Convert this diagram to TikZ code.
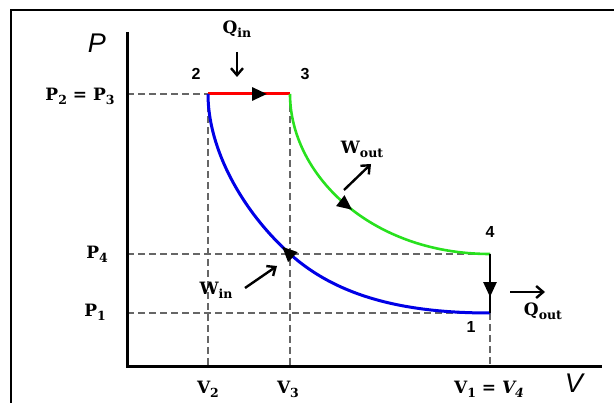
\documentclass[tikz,border=0pt]{standalone}
\usepackage{fontspec}
\newfontfamily\sansf{Liberation Sans}
\newfontfamily\serb{DejaVu Serif}
\newcommand{\lbl}[2]{\mbox{\serb\bfseries\fontsize{17}{19}\selectfont #1\raisebox{-4pt}{\fontsize{12.5}{14}\selectfont #2}}}
\newcommand{\lbli}[2]{\mbox{\serb\bfseries\itshape\fontsize{17}{19}\selectfont #1\raisebox{-4pt}{\fontsize{12.5}{14}\selectfont #2}}}
\newcommand{\lbleq}{\mbox{\serb\bfseries\fontsize{17}{19}\selectfont\ =\ }}
\usetikzlibrary{arrows.meta,decorations.markings}
\begin{document}
\begin{tikzpicture}[x=1pt,y=-1pt,
  axis/.style={line width=3pt},
  frame/.style={line width=2pt},
  guide/.style={draw=black!60, line width=1.2pt, dash pattern=on 7pt off 4pt},
  lab/.style={inner sep=0pt},
  num/.style={font=\sansf\bfseries\fontsize{16}{18}\selectfont, inner sep=0pt},
  axlab/.style={font=\sansf\itshape\fontsize{27}{30}\selectfont, inner sep=0pt},
  smallarrow/.style={line width=2.4pt, -{Straight Barb[length=7pt,width=12pt]}},
  tipat/.style={postaction=decorate, decoration={markings,
      mark=at position #1 with {\arrow{Triangle[length=15pt,width=13pt,color=black,fill=black]}}}},
  process/.style={line width=3pt}
]
\useasboundingbox (0,0) rectangle (614,403);
% frame
\coordinate (fr1) at (614,10);
\coordinate (fr2) at (11,10);
\coordinate (fr3) at (11,403);
\draw[frame] (fr1) -- (fr2) -- (fr3);

% state points
\coordinate (s1) at (490,313);
\coordinate (s2) at (208,94);
\coordinate (s3) at (290,94);
\coordinate (s4) at (490,254);
\coordinate (m)  at (290,254);
% axes
\coordinate (O) at (127,367);
\coordinate (ytop) at (127,32);
\coordinate (xend) at (602,367);
\coordinate (yP23) at (127,94);
\coordinate (yP4) at (127,254);
\coordinate (yP1) at (127,313);
\coordinate (xV2) at (208,367);
\coordinate (xV3) at (290,367);
\coordinate (xV1) at (490,367);

% guides
\draw[guide] (yP23) -- (s2);
\draw[guide] (yP4) -- (s4);
\draw[guide] (yP1) -- (s1);
\draw[guide] (s2) -- (xV2);
\draw[guide] (s3) -- (xV3);
\draw[guide] (s1) -- (xV1);

% axes
\draw[axis] (ytop) -- (O) -- (xend);

% processes
\draw[process, color={rgb,255:red,255;green,0;blue,0}, tipat=0.72] (s2) -- (s3);
\draw[process, color={rgb,255:red,0;green,0;blue,230}, tipat=0.563]
  (s1) .. controls (410,313) and (340,299) .. (m) .. controls (242,211) and (208,149) .. (s2);
\draw[process, line width=2.6pt, color={rgb,255:red,40;green,225;blue,30}, tipat=0.48]
  (s3) .. controls (290,174) and (370,254) .. (s4);
\draw[line width=2.5pt, tipat=0.73] (s4) -- (s1);

% labels
\node[axlab] (P) at (97,43) {P};
\node[axlab] (V) at (574,383) {V};
\node[lab] (Qin) at (237,29) {\lbl{Q}{in}};
\node[lab] (Wout) at (362,149) {\lbl{W}{out}};
\node[lab] (Win) at (216,290) {\lbl{W}{in}};
\node[lab] (Qout) at (543,311) {\lbl{Q}{out}};
\node[lab] (lP23) at (80,96) {\lbl{P}{2}\lbleq\lbl{P}{3}};
\node[lab] (lP4) at (97,254) {\lbl{P}{4}};
\node[lab] (lP1) at (95,312) {\lbl{P}{1}};
\node[lab] (lV2) at (208,389) {\lbl{V}{2}};
\node[lab] (lV3) at (288,389) {\lbl{V}{3}};
\node[lab] (lV14) at (489,389) {\lbl{V}{1}\lbleq\lbli{V}{4}};
\node[num] (n2) at (196,74) {2};
\node[num] (n3) at (305,74) {3};
\node[num] (n4) at (490,232) {4};
\node[num] (n1) at (471,327) {1};

% small arrows
\coordinate (qa1) at (237,52);
\coordinate (qa2) at (237,77);
\coordinate (wo1) at (344,190);
\coordinate (wo2) at (371,164);
\coordinate (wi1) at (245,288);
\coordinate (wi2) at (277,266);
\coordinate (qo1) at (510,292);
\coordinate (qo2) at (545,292);
\draw[smallarrow] (qa1) -- (qa2);
\draw[smallarrow] (wo1) -- (wo2);
\draw[smallarrow] (wi1) -- (wi2);
\draw[smallarrow] (qo1) -- (qo2);
\end{tikzpicture}
\end{document}
